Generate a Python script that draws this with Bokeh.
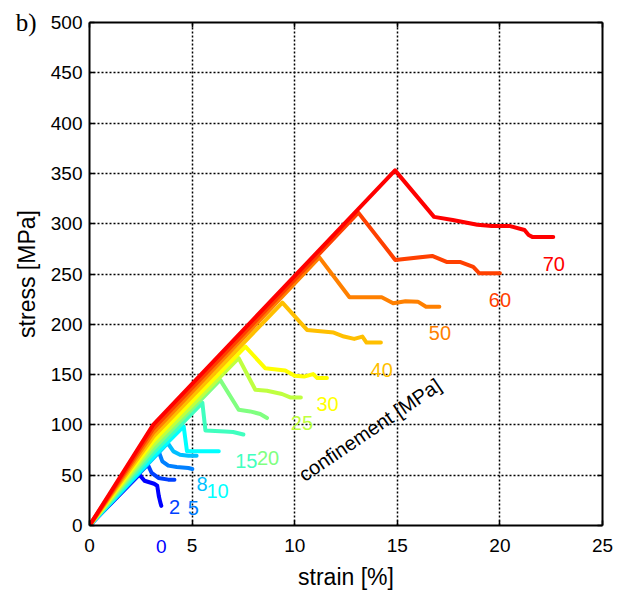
import math
from bokeh.plotting import figure
from bokeh.models import LinearAxis, Label, Range1d, FixedTicker
from bokeh.embed import file_html
from bokeh.resources import INLINE

confinement = ["0", "2", "5", "8", "10", "15", "20", "25", "30", "40", "50", "60", "70"]
colors = ["#0000ff", "#0040ff", "#0080ff", "#00bfff", "#00ffff", "#40ffbf", "#80ff80",
          "#bfff40", "#ffff00", "#ffbf00", "#ff8000", "#ff4000", "#ff0000"]

strain_0 = [0, 2.43, 2.68, 3.15, 3.3, 3.38, 3.45, 3.5]
stress_0 = [0, 50.6, 44.5, 41.5, 39.5, 29, 23, 19.5]
strain_2 = [0, 2.84, 3.03, 3.36, 3.84, 4.14]
stress_2 = [0, 60.5, 52.2, 47.3, 45.6, 45.6]
strain_5 = [0, 3.37, 3.55, 3.84, 4.25, 4.82, 5.01]
stress_5 = [0, 73.8, 63.8, 59.5, 58.2, 57.2, 56.2]
strain_8 = [0, 3.81, 4.09, 4.41, 4.82, 5.22]
stress_8 = [0, 82, 73.7, 70.4, 69.4, 69.4]
strain_10 = [0, 3.1, 4.59, 4.75, 6.3]
stress_10 = [0, 68, 98.5, 73.7, 73.7]
strain_15 = [0, 3.1, 5.5, 5.65, 6.6, 7.0, 7.5]
stress_15 = [0, 72, 122, 94.5, 93.5, 93, 90.5]
strain_20 = [0, 3.1, 6.37, 7.27, 7.83, 8.32, 8.65]
stress_20 = [0, 76, 144.8, 115.1, 113.4, 110.8, 106.8]
strain_25 = [0, 3.1, 7.27, 8.08, 8.65, 9.38, 9.78, 10.3]
stress_25 = [0, 80, 166.4, 134.9, 133.9, 130.7, 127.3, 127.3]
strain_30 = [0, 3.1, 7.6, 8.56, 9.54, 10.0, 10.46, 10.9, 11.1, 11.57]
stress_30 = [0, 84, 177.9, 156.4, 154, 148.8, 148, 150.5, 146.5, 146.5]
strain_40 = [0, 3.1, 9.4, 10.6, 11.9, 12.4, 12.9, 13.3, 13.5, 14.2]
stress_40 = [0, 88, 221.5, 194.4, 191.8, 187.8, 185.5, 187.8, 181.8, 181.8]
strain_50 = [0, 3.1, 11.2, 12.67, 14.24, 14.8, 15.4, 16.0, 16.4, 17.05]
stress_50 = [0, 92, 266.5, 226.9, 226.9, 221, 223, 222.5, 217.5, 217.5]
strain_60 = [0, 3.1, 13.1, 14.9, 16.7, 17.4, 18.05, 18.7, 19.0, 20.0]
stress_60 = [0, 96, 311, 264, 268, 262, 262, 257, 250.7, 250.7]
strain_70 = [0, 3.1, 14.89, 16.79, 17.7, 18.9, 19.6, 20.5, 21.2, 21.4, 21.6, 22.6]
stress_70 = [0, 100, 353, 306.8, 303.6, 299, 297.6, 297.6, 293.7, 288.7, 286.7, 286.7]

# label anchors (data units) for confinements 2..70; "0" sits under the axis
label_x = [4.14, 5.06, 5.48, 6.24, 7.64, 8.7, 10.35, 11.6, 14.24, 17.08, 20.0, 22.63]
label_y = [18.5, 17.5, 41.7, 34.0, 63.8, 67.2, 101.9, 121.0, 154.8, 191.2, 224.2, 260.0]
zero_label_x = 3.5

x_ticks = [0, 5, 10, 15, 20, 25]
y_ticks = [0, 50, 100, 150, 200, 250, 300, 350, 400, 450, 500]

curves_x = [strain_0, strain_2, strain_5, strain_8, strain_10, strain_15, strain_20,
            strain_25, strain_30, strain_40, strain_50, strain_60, strain_70]
curves_y = [stress_0, stress_2, stress_5, stress_8, stress_10, stress_15, stress_20,
            stress_25, stress_30, stress_40, stress_50, stress_60, stress_70]

FONT = "Liberation Sans"

p = figure(width=617, height=592, x_range=Range1d(0, 25), y_range=Range1d(0, 500),
           output_backend="svg", toolbar_location=None,
           min_border_left=89, min_border_right=15, min_border_top=22, min_border_bottom=66)
p.outline_line_color = None
p.background_fill_color = "white"
p.border_fill_color = "white"


def style_main(ax):
    ax.axis_line_width = 2
    ax.axis_line_color = "black"
    ax.major_tick_in = 5
    ax.major_tick_out = 0
    ax.minor_tick_in = 5
    ax.minor_tick_out = 0
    ax.major_tick_line_width = 1.5
    ax.minor_tick_line_width = 1.5
    ax.major_label_text_font = FONT
    ax.major_label_text_font_size = "19px"
    ax.major_label_text_color = "black"
    ax.axis_label_text_font = FONT
    ax.axis_label_text_font_size = "23px"
    ax.axis_label_text_font_style = "normal"
    ax.axis_label_text_color = "black"


xa = p.xaxis[0]
ya = p.yaxis[0]
style_main(xa)
style_main(ya)
xa.ticker = x_ticks
ya.ticker = y_ticks
xa.ticker.num_minor_ticks = 5
ya.ticker.num_minor_ticks = 2
xa.major_label_standoff = 13
ya.major_label_standoff = 7
ya.axis_label = "stress [MPa]"
ya.axis_label_standoff = 8

# second bottom axis: blue "0" label + x axis title
xb = LinearAxis(ticker=FixedTicker(ticks=[zero_label_x], minor_ticks=[]))
xb.major_label_overrides = {zero_label_x: confinement[0]}
xb.axis_line_color = None
xb.major_tick_line_color = None
xb.minor_tick_line_color = None
xb.major_tick_in = 0
xb.major_tick_out = 0
xb.major_label_standoff = -15
xb.major_label_text_font = FONT
xb.major_label_text_font_size = "19px"
xb.major_label_text_color = colors[0]
xb.axis_label = "strain [%]"
xb.axis_label_standoff = 8
xb.axis_label_text_font = FONT
xb.axis_label_text_font_size = "23px"
xb.axis_label_text_font_style = "normal"
xb.axis_label_text_color = "black"
p.add_layout(xb, "below")

# second left axis: panel tag "b)"
yb = LinearAxis(ticker=FixedTicker(ticks=[500], minor_ticks=[]))
yb.major_label_overrides = {500: "b)"}
yb.axis_line_color = None
yb.major_tick_line_color = None
yb.minor_tick_line_color = None
yb.major_tick_in = 0
yb.major_tick_out = 0
yb.major_label_standoff = -26
yb.major_label_text_font = "Liberation Serif"
yb.major_label_text_font_size = "25px"
yb.major_label_text_color = "black"
p.add_layout(yb, "left")

for loc in ("above", "right"):
    ax = LinearAxis()
    ax.axis_line_width = 2
    ax.major_tick_in = 5
    ax.major_tick_out = 0
    ax.minor_tick_in = 5
    ax.minor_tick_out = 0
    ax.major_tick_line_width = 1.5
    ax.minor_tick_line_width = 1.5
    ax.major_label_text_font_size = "0px"
    ax.major_label_text_color = None
    if loc == "above":
        ax.ticker = x_ticks
        ax.ticker.num_minor_ticks = 5
    else:
        ax.ticker = y_ticks
        ax.ticker.num_minor_ticks = 2
    p.add_layout(ax, loc)

p.xgrid.ticker = x_ticks
p.ygrid.ticker = y_ticks
for g in (p.xgrid[0], p.ygrid[0]):
    g.grid_line_color = "black"
    g.grid_line_dash = "2 2"
    g.grid_line_width = 1.5

for xs, ys, c in zip(curves_x, curves_y, colors):
    p.line(xs, ys, line_color=c, line_width=4, line_join="round", line_cap="round")

for t, x, y, c in zip(confinement[1:], label_x, label_y, colors[1:]):
    p.add_layout(Label(x=x, y=y, text=t, text_color=c, text_font=FONT,
                       text_font_size="20px", text_align="center", text_baseline="middle"))

p.add_layout(Label(x=13.67, y=95.2, text="confinement [MPa]", text_color="black",
                   text_font=FONT, text_font_size="20px", text_align="center",
                   text_baseline="middle", angle=math.radians(34)))

open("out.html", "w").write(file_html(p, INLINE))
